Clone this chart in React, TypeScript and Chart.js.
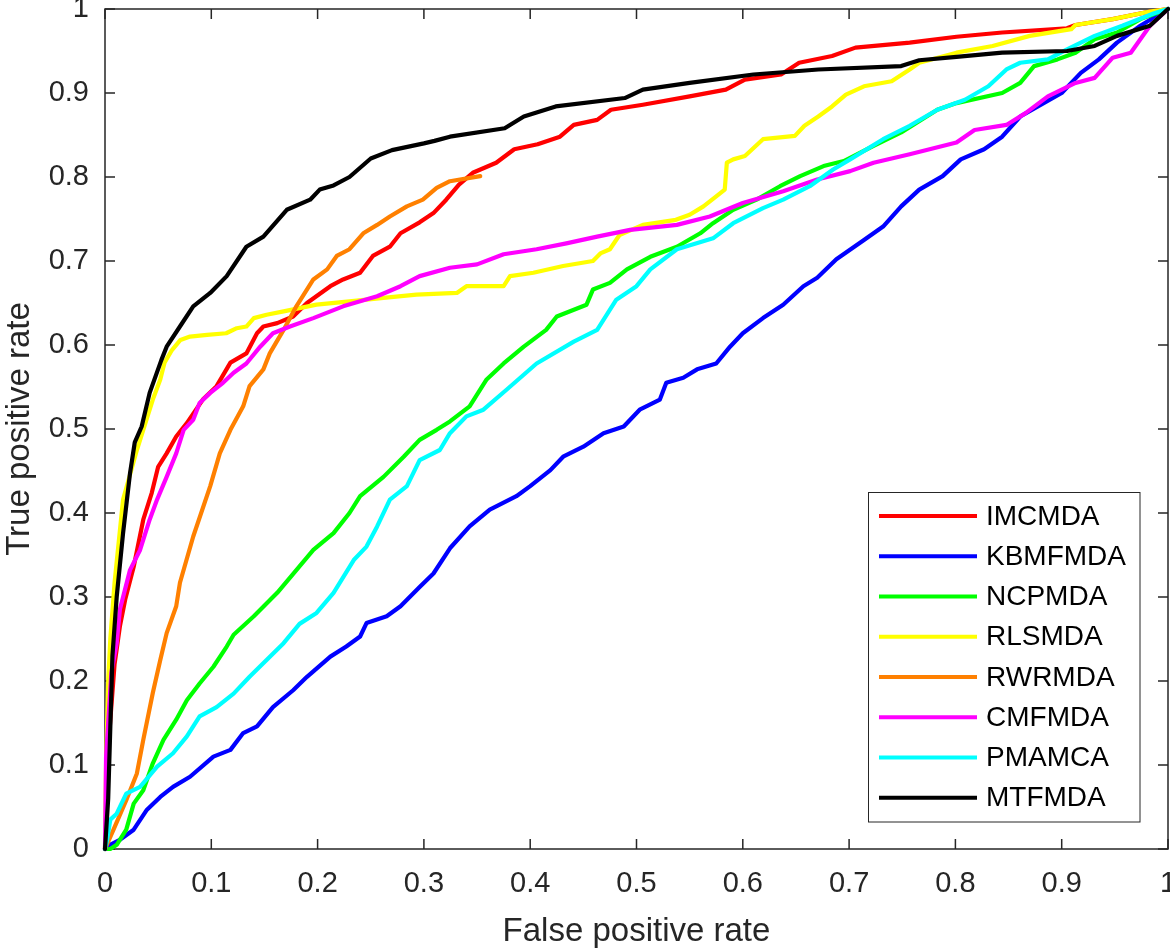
import React, { useEffect, useRef } from "react";
import { Chart, registerables } from "chart.js";

Chart.register(...registerables);

const seriesNames = ["IMCMDA", "KBMFMDA", "NCPMDA", "RLSMDA", "RWRMDA", "CMFMDA", "PMAMCA", "MTFMDA"];
const seriesColors = ["#ff0000", "#0000ff", "#00ff00", "#ffff00", "#ff8000", "#ff00ff", "#00ffff", "#000000"];

const xTickValues = [0, 0.1, 0.2, 0.3, 0.4, 0.5, 0.6, 0.7, 0.8, 0.9, 1];
const xTickLabels = ["0", "0.1", "0.2", "0.3", "0.4", "0.5", "0.6", "0.7", "0.8", "0.9", "1"];
const yTickValues = [0, 0.1, 0.2, 0.3, 0.4, 0.5, 0.6, 0.7, 0.8, 0.9, 1];
const yTickLabels = ["0", "0.1", "0.2", "0.3", "0.4", "0.5", "0.6", "0.7", "0.8", "0.9", "1"];

const IMCMDA: number[][] = [
  [0, 0], [0.003, 0.12], [0.009, 0.22], [0.014, 0.265], [0.019, 0.297], [0.027, 0.336], [0.036, 0.392],
  [0.044, 0.424], [0.05, 0.455], [0.058, 0.471], [0.067, 0.491], [0.077, 0.507], [0.092, 0.535],
  [0.105, 0.551], [0.118, 0.579], [0.133, 0.59], [0.143, 0.614], [0.149, 0.622], [0.162, 0.626],
  [0.177, 0.634], [0.19, 0.65], [0.212, 0.67], [0.224, 0.678], [0.24, 0.686], [0.252, 0.706],
  [0.268, 0.717], [0.278, 0.733], [0.296, 0.746], [0.309, 0.757], [0.321, 0.773], [0.333, 0.791],
  [0.346, 0.805], [0.368, 0.817], [0.385, 0.833], [0.407, 0.839], [0.428, 0.848], [0.441, 0.862],
  [0.463, 0.868], [0.476, 0.88], [0.506, 0.886], [0.55, 0.896], [0.584, 0.904], [0.602, 0.916],
  [0.636, 0.922], [0.653, 0.936], [0.684, 0.944], [0.706, 0.954], [0.757, 0.96], [0.801, 0.967],
  [0.844, 0.972], [0.905, 0.977], [0.913, 0.981], [0.948, 0.988], [0.983, 0.997], [1, 1],
];

const KBMFMDA: number[][] = [
  [0, 0], [0.002, 0.003], [0.014, 0.011], [0.027, 0.023], [0.039, 0.046], [0.052, 0.062], [0.064, 0.074],
  [0.08, 0.086], [0.102, 0.11], [0.118, 0.118], [0.13, 0.138], [0.143, 0.146], [0.158, 0.169],
  [0.177, 0.189], [0.19, 0.205], [0.212, 0.229], [0.227, 0.241], [0.24, 0.253], [0.246, 0.269],
  [0.265, 0.277], [0.278, 0.289], [0.296, 0.312], [0.309, 0.328], [0.3245, 0.358], [0.343, 0.384],
  [0.362, 0.404], [0.387, 0.42], [0.4, 0.432], [0.419, 0.451], [0.431, 0.467], [0.45, 0.479],
  [0.469, 0.495], [0.488, 0.503], [0.503, 0.523], [0.522, 0.535], [0.528, 0.555], [0.544, 0.561],
  [0.557, 0.571], [0.575, 0.578], [0.588, 0.598], [0.6, 0.614], [0.619, 0.632], [0.638, 0.648],
  [0.657, 0.67], [0.67, 0.68], [0.688, 0.702], [0.714, 0.725], [0.732, 0.741], [0.749, 0.765],
  [0.766, 0.785], [0.788, 0.801], [0.805, 0.821], [0.827, 0.833], [0.844, 0.848], [0.861, 0.872],
  [0.883, 0.888], [0.9, 0.9], [0.918, 0.924], [0.935, 0.94], [0.952, 0.96], [0.974, 0.98], [1, 1],
];

const NCPMDA: number[][] = [
  [0, 0], [0.005, 0], [0.011, 0.005], [0.02, 0.023], [0.027, 0.054], [0.036, 0.07], [0.045, 0.102],
  [0.055, 0.13], [0.067, 0.154], [0.077, 0.177], [0.089, 0.197], [0.102, 0.217], [0.1145, 0.241],
  [0.121, 0.255], [0.14, 0.277], [0.162, 0.305], [0.18, 0.332], [0.196, 0.356], [0.215, 0.376],
  [0.23, 0.4], [0.24, 0.42], [0.262, 0.443], [0.281, 0.467], [0.296, 0.487], [0.312, 0.499],
  [0.3245, 0.509], [0.343, 0.527], [0.359, 0.559], [0.375, 0.578], [0.394, 0.598], [0.415, 0.618],
  [0.425, 0.634], [0.453, 0.648], [0.459, 0.666], [0.475, 0.674], [0.491, 0.69], [0.513, 0.705],
  [0.538, 0.717], [0.56, 0.733], [0.572, 0.745], [0.591, 0.761], [0.613, 0.773], [0.635, 0.789],
  [0.654, 0.801], [0.676, 0.813], [0.695, 0.819], [0.723, 0.837], [0.749, 0.853], [0.783, 0.88],
  [0.801, 0.888], [0.844, 0.9], [0.861, 0.912], [0.874, 0.932], [0.896, 0.94], [0.913, 0.948],
  [0.931, 0.964], [0.952, 0.972], [0.974, 0.988], [1, 1],
];

const RLSMDA: number[][] = [
  [0, 0], [0.001, 0.1], [0.003, 0.2], [0.005, 0.25], [0.009, 0.317], [0.017, 0.416], [0.03, 0.475],
  [0.036, 0.499], [0.045, 0.535], [0.052, 0.559], [0.056, 0.579], [0.063, 0.594], [0.071, 0.606],
  [0.08, 0.61], [0.096, 0.612], [0.114, 0.614], [0.124, 0.62], [0.133, 0.622], [0.14, 0.632],
  [0.152, 0.636], [0.168, 0.64], [0.199, 0.648], [0.23, 0.652], [0.262, 0.656], [0.293, 0.66],
  [0.331, 0.662], [0.34, 0.67], [0.375, 0.67], [0.381, 0.682], [0.403, 0.686], [0.431, 0.694],
  [0.459, 0.7], [0.466, 0.709], [0.475, 0.714], [0.484, 0.731], [0.506, 0.743], [0.537, 0.749],
  [0.55, 0.755], [0.563, 0.765], [0.575, 0.777], [0.583, 0.785], [0.585, 0.817], [0.591, 0.821],
  [0.602, 0.825], [0.619, 0.845], [0.649, 0.849], [0.658, 0.861], [0.671, 0.872], [0.684, 0.884],
  [0.697, 0.898], [0.714, 0.908], [0.74, 0.914], [0.757, 0.928], [0.766, 0.936], [0.801, 0.948],
  [0.835, 0.956], [0.87, 0.968], [0.909, 0.976], [0.913, 0.981], [0.948, 0.988], [0.983, 0.997], [1, 1],
];

const RWRMDA: number[][] = [
  [0, 0], [0.008, 0.023], [0.02, 0.058], [0.03, 0.09], [0.036, 0.13], [0.045, 0.186], [0.052, 0.225],
  [0.058, 0.257], [0.067, 0.289], [0.0705, 0.317], [0.083, 0.372], [0.099, 0.432], [0.108, 0.471],
  [0.118, 0.499], [0.13, 0.527], [0.136, 0.551], [0.149, 0.571], [0.155, 0.59], [0.168, 0.618],
  [0.18, 0.646], [0.196, 0.678], [0.209, 0.69], [0.218, 0.706], [0.23, 0.714], [0.243, 0.733],
  [0.256, 0.743], [0.268, 0.753], [0.284, 0.765], [0.299, 0.773], [0.312, 0.787], [0.3245, 0.795],
  [0.353, 0.801],
];

const CMFMDA: number[][] = [
  [0, 0], [0.001, 0.11], [0.006, 0.21], [0.011, 0.245], [0.014, 0.285], [0.0235, 0.332], [0.033, 0.356],
  [0.042, 0.392], [0.049, 0.416], [0.058, 0.443], [0.067, 0.471], [0.074, 0.499], [0.083, 0.511],
  [0.089, 0.531], [0.099, 0.543], [0.111, 0.555], [0.121, 0.567], [0.133, 0.578], [0.146, 0.598],
  [0.158, 0.614], [0.174, 0.622], [0.196, 0.632], [0.224, 0.646], [0.256, 0.658], [0.278, 0.67],
  [0.296, 0.682], [0.3245, 0.692], [0.35, 0.696], [0.375, 0.708], [0.406, 0.714], [0.434, 0.721],
  [0.463, 0.729], [0.494, 0.737], [0.538, 0.743], [0.569, 0.753], [0.6, 0.769], [0.638, 0.783],
  [0.67, 0.797], [0.701, 0.807], [0.723, 0.817], [0.757, 0.827], [0.801, 0.841], [0.818, 0.856],
  [0.848, 0.862], [0.866, 0.876], [0.887, 0.896], [0.913, 0.912], [0.931, 0.918], [0.948, 0.942],
  [0.965, 0.948], [0.983, 0.98], [1, 1],
];

const PMAMCA: number[][] = [
  [0, 0], [0.002, 0.011], [0.005, 0.035], [0.011, 0.042], [0.02, 0.066], [0.033, 0.074], [0.049, 0.098],
  [0.064, 0.114], [0.077, 0.134], [0.089, 0.158], [0.105, 0.169], [0.121, 0.185], [0.136, 0.205],
  [0.152, 0.225], [0.168, 0.245], [0.183, 0.268], [0.199, 0.281], [0.215, 0.305], [0.234, 0.344],
  [0.246, 0.36], [0.256, 0.384], [0.268, 0.416], [0.284, 0.432], [0.296, 0.463], [0.315, 0.475],
  [0.3245, 0.495], [0.34, 0.515], [0.356, 0.523], [0.378, 0.547], [0.406, 0.578], [0.441, 0.604],
  [0.463, 0.618], [0.481, 0.654], [0.5, 0.67], [0.513, 0.69], [0.538, 0.714], [0.572, 0.727],
  [0.591, 0.745], [0.619, 0.763], [0.638, 0.773], [0.663, 0.789], [0.685, 0.809], [0.701, 0.821],
  [0.732, 0.845], [0.757, 0.861], [0.783, 0.88], [0.809, 0.892], [0.831, 0.908], [0.848, 0.928],
  [0.861, 0.936], [0.887, 0.94], [0.905, 0.952], [0.931, 0.968], [0.957, 0.98], [0.987, 0.995], [1, 1],
];

const MTFMDA: number[][] = [
  [0, 0], [0.003, 0.06], [0.007, 0.23], [0.011, 0.3], [0.017, 0.376], [0.0235, 0.447], [0.028, 0.484],
  [0.0345, 0.503], [0.042, 0.543], [0.053, 0.582], [0.058, 0.598], [0.0705, 0.622], [0.083, 0.646],
  [0.099, 0.662], [0.1145, 0.682], [0.133, 0.717], [0.149, 0.729], [0.171, 0.761], [0.193, 0.773],
  [0.202, 0.785], [0.215, 0.79], [0.23, 0.8], [0.25, 0.822], [0.27, 0.832], [0.3, 0.84], [0.31, 0.843],
  [0.3245, 0.848], [0.376, 0.858], [0.394, 0.872], [0.424, 0.884], [0.489, 0.894], [0.506, 0.904],
  [0.55, 0.912], [0.61, 0.922], [0.671, 0.928], [0.749, 0.932], [0.766, 0.939], [0.801, 0.943],
  [0.844, 0.948], [0.905, 0.95], [0.931, 0.956], [0.952, 0.968], [0.983, 0.98], [1, 1],
];

const FONT = '"Liberation Sans", Arial, Helvetica, sans-serif';
const AXIS_COLOR = "#262626";

export default function App() {
  const canvasRef = useRef<HTMLCanvasElement>(null);

  useEffect(() => {
    if (!canvasRef.current) return;
    const seriesData = [IMCMDA, KBMFMDA, NCPMDA, RLSMDA, RWRMDA, CMFMDA, PMAMCA, MTFMDA];
    const n = seriesNames.length;

    const axesPlugin = {
      id: "matlabAxes",
      beforeDatasetsDraw(chart: any) {
        const { ctx, chartArea: a, scales } = chart;
        ctx.save();
        ctx.strokeStyle = AXIS_COLOR;
        ctx.lineWidth = 1.5;
        ctx.strokeRect(a.left, a.top, a.right - a.left, a.bottom - a.top);
        const tl = 10;
        ctx.beginPath();
        xTickValues.forEach((v) => {
          const px = scales.x.getPixelForValue(v);
          ctx.moveTo(px, a.bottom);
          ctx.lineTo(px, a.bottom - tl);
          ctx.moveTo(px, a.top);
          ctx.lineTo(px, a.top + tl);
        });
        yTickValues.forEach((v) => {
          const py = scales.y.getPixelForValue(v);
          ctx.moveTo(a.left, py);
          ctx.lineTo(a.left + tl, py);
          ctx.moveTo(a.right, py);
          ctx.lineTo(a.right - tl, py);
        });
        ctx.stroke();
        ctx.restore();
      },
    };

    const legendPlugin = {
      id: "boxLegend",
      afterDraw(chart: any) {
        const { ctx, chartArea: a } = chart;
        const boxL = a.right - 299.5;
        const boxT = a.bottom - 356.5;
        const boxW = 271.5;
        const boxH = 329.5;
        ctx.save();
        ctx.fillStyle = "#ffffff";
        ctx.fillRect(boxL, boxT, boxW, boxH);
        ctx.strokeStyle = AXIS_COLOR;
        ctx.lineWidth = 1;
        ctx.strokeRect(boxL, boxT, boxW, boxH);
        ctx.font = `28px ${FONT}`;
        ctx.textBaseline = "middle";
        ctx.textAlign = "left";
        for (let i = 0; i < n; i++) {
          const cy = boxT + 23.5 + i * 40.25;
          ctx.strokeStyle = seriesColors[i];
          ctx.lineWidth = 4;
          ctx.beginPath();
          ctx.moveTo(boxL + 10.5, cy);
          ctx.lineTo(boxL + 108.5, cy);
          ctx.stroke();
          ctx.fillStyle = "#000000";
          ctx.fillText(seriesNames[i], boxL + 117.5, cy + 1);
        }
        ctx.restore();
      },
    };

    const chart = new Chart(canvasRef.current, {
      type: "line",
      data: {
        datasets: seriesData.map((pts, i) => ({
          label: seriesNames[i],
          data: pts.map((p) => ({ x: p[0], y: p[1] })),
          borderColor: seriesColors[i],
          backgroundColor: seriesColors[i],
          borderWidth: 4.2,
          pointRadius: 0,
          pointHoverRadius: 0,
          tension: 0,
          fill: false,
          clip: false as any,
          order: n - i,
          borderJoinStyle: "round" as const,
          borderCapStyle: "round" as const,
        })),
      },
      options: {
        animation: false,
        responsive: false,
        devicePixelRatio: 1,
        parsing: false,
        layout: { padding: { top: 9, right: 2, left: 0, bottom: 0 } },
        plugins: {
          legend: { display: false },
          tooltip: { enabled: false },
        },
        scales: {
          x: {
            type: "linear",
            min: 0,
            max: 1,
            afterBuildTicks: (s: any) => {
              s.ticks = xTickValues.map((v) => ({ value: v }));
            },
            afterFit: (s: any) => {
              s.height = 103;
              s.paddingLeft = 0;
              s.paddingRight = 0;
            },
            grid: { display: false, drawTicks: false },
            border: { display: false },
            ticks: {
              autoSkip: false,
              maxRotation: 0,
              padding: 18,
              color: AXIS_COLOR,
              font: { family: FONT, size: 29 },
              callback: (_v: any, i: number) => xTickLabels[i],
            },
            title: {
              display: true,
              text: "False positive rate",
              color: AXIS_COLOR,
              font: { family: FONT, size: 33 },
              padding: { top: 0, bottom: 0 },
            },
          },
          y: {
            type: "linear",
            min: 0,
            max: 1,
            afterBuildTicks: (s: any) => {
              s.ticks = yTickValues.map((v) => ({ value: v }));
            },
            afterFit: (s: any) => {
              s.width = 105;
              s.paddingTop = 0;
              s.paddingBottom = 0;
            },
            grid: { display: false, drawTicks: false },
            border: { display: false },
            ticks: {
              autoSkip: false,
              padding: 16,
              color: AXIS_COLOR,
              font: { family: FONT, size: 29 },
              callback: (_v: any, i: number) => yTickLabels[i],
            },
            title: {
              display: true,
              text: "True positive rate",
              color: AXIS_COLOR,
              font: { family: FONT, size: 33 },
              padding: { top: 0, bottom: 0 },
            },
          },
        },
      },
      plugins: [axesPlugin, legendPlugin],
    });

    return () => chart.destroy();
  }, []);

  return (
    <div style={{ position: "absolute", left: 0, top: 0, width: 1170, height: 952, background: "#ffffff" }}>
      <canvas ref={canvasRef} width={1170} height={952} style={{ display: "block" }} />
    </div>
  );
}
